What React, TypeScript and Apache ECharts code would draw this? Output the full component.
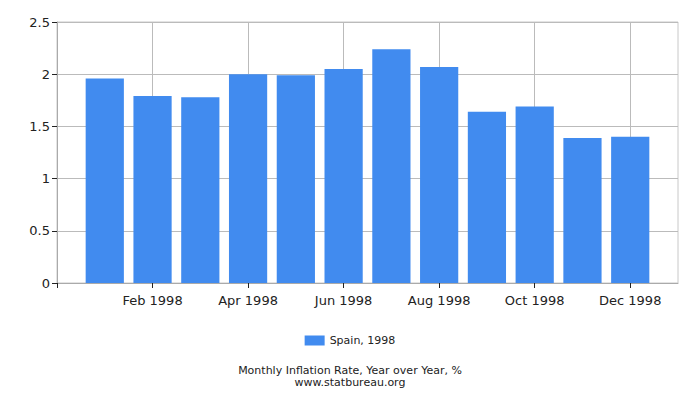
import React, { useEffect, useRef } from "react";
import * as echarts from "echarts";

const categories = [
  "Jan 1998", "Feb 1998", "Mar 1998", "Apr 1998", "May 1998", "Jun 1998",
  "Jul 1998", "Aug 1998", "Sep 1998", "Oct 1998", "Nov 1998", "Dec 1998",
];
const values = [1.96, 1.79, 1.78, 2.0, 1.99, 2.05, 2.24, 2.07, 1.64, 1.69, 1.39, 1.4];
const seriesName = "Spain, 1998";
const titleText = "Monthly Inflation Rate, Year over Year, %";
const subText = "www.statbureau.org";

const FONT = "DejaVu Sans, Verdana, sans-serif";

// half-band padding on both ends of the axis, as in the reference
const axisCats = ["", ...categories, ""];
const axisVals = [null, ...values, null];
const labelIdx = (idx: number) => idx % 2 === 0 && idx > 0 && idx < axisCats.length - 1;
const tickIdx = (idx: number) => idx % 2 === 0 && idx < axisCats.length - 1;

export default function App() {
  const ref = useRef<HTMLDivElement>(null);
  useEffect(() => {
    if (!ref.current) return;
    document.body.style.margin = "0";
    const chart = echarts.init(ref.current, undefined, { renderer: "svg" });
    chart.setOption({
      animation: false,
      textStyle: { fontFamily: FONT },
      grid: {
        left: 57, right: 22, top: 22, bottom: 117,
        show: true, borderColor: "#c8c8c8", borderWidth: 1,
      },
      legend: {
        data: [seriesName],
        top: 330,
        left: "center",
        itemWidth: 20,
        itemHeight: 10,
        itemGap: 5,
        textStyle: { fontSize: 11, color: "#222", fontFamily: FONT },
        icon: "rect",
      },
      title: {
        text: titleText,
        subtext: subText,
        left: "center",
        top: 364,
        padding: 0,
        itemGap: 0,
        textStyle: { fontSize: 11, color: "#222", fontWeight: "normal", fontFamily: FONT, lineHeight: 12 },
        subtextStyle: { fontSize: 11, color: "#222", fontFamily: FONT, lineHeight: 12 },
      },
      xAxis: {
        type: "category",
        data: axisCats,
        boundaryGap: false,
        axisLine: { lineStyle: { color: "#aaa" } },
        axisTick: { interval: tickIdx, length: 5, lineStyle: { color: "#222" } },
        axisLabel: { interval: labelIdx, fontSize: 13, color: "#222", margin: 11, fontFamily: FONT },
        splitLine: { show: true, interval: labelIdx, lineStyle: { color: "#bbb" } },
      },
      yAxis: {
        type: "value",
        min: 0,
        max: 2.5,
        interval: 0.5,
        axisLine: { show: true, lineStyle: { color: "#aaa" } },
        axisTick: { show: true, length: 5, lineStyle: { color: "#222" } },
        axisLabel: { fontSize: 13, color: "#222", margin: 7, fontFamily: FONT },
        splitLine: { lineStyle: { color: "#bbb" } },
      },
      series: [
        {
          name: seriesName,
          type: "bar",
          data: axisVals,
          barCategoryGap: "20%",
          itemStyle: { color: "#418bef" },
        },
      ],
    });
    return () => chart.dispose();
  }, []);
  return <div ref={ref} style={{ width: 700, height: 400 }} />;
}
